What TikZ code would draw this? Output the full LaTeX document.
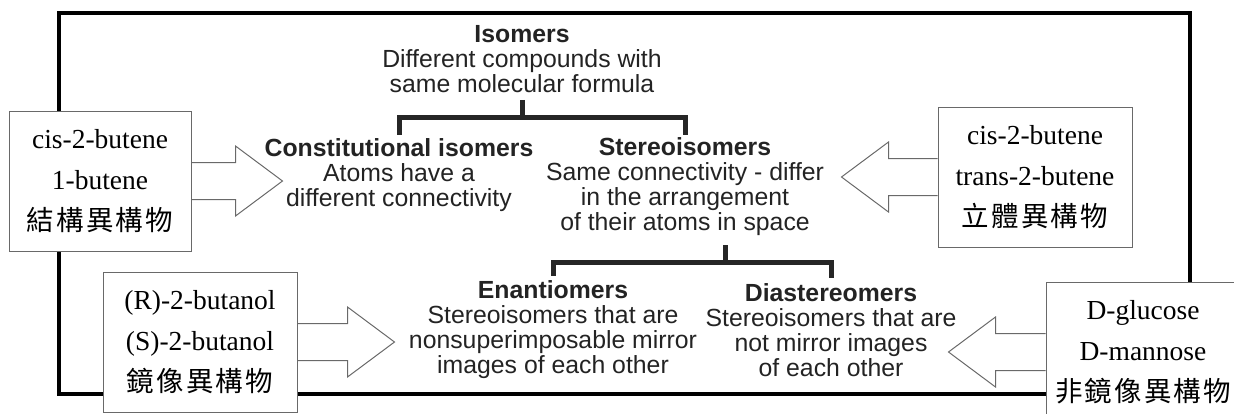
\documentclass[tikz,border=0pt]{standalone}
\usepackage{fontspec}
\setmainfont{Liberation Serif}
\setsansfont{Liberation Sans}
\newfontfamily\cjk[LetterSpace=8]{Noto Sans CJK TC}
\usetikzlibrary{positioning,calc}
\definecolor{txt}{RGB}{35,35,35}
\definecolor{edge}{RGB}{105,105,105}
% hollow block arrow: box anchor, tip, signed head length
\newcommand\fatarrow[3]{%
  \draw[blockarr] ($(#1)+(0,-18.5)$) -- ($(#2)+({-(#3)},-18.5)$) -- ($(#2)+({-(#3)},-35)$)
    -- (#2) -- ($(#2)+({-(#3)},35)$) -- ($(#2)+({-(#3)},18.5)$) -- ($(#1)+(0,18.5)$);}

\begin{document}
\begin{tikzpicture}[x=1pt,y=-1pt,every node/.style={inner sep=0pt},
  hd/.style={font=\fontsize{24.8}{25}\selectfont\sffamily,text=txt,align=center},
  ex/.style={draw=edge,line width=1pt,fill=white,minimum width=194pt,minimum height=140pt,
    align=center,font=\fontsize{27.5}{41}\selectfont},
  blockarr/.style={draw=edge,line width=1pt,line join=miter},
  tree/.style={line width=5pt,draw=black!85,line join=miter}]
  \useasboundingbox (0,0) rectangle (1234,413);
  \clip (0,0) rectangle (1234,413);
  \draw[line width=4pt] (59,13) rectangle (1190,394);
  % classification
  \node[hd] (isom) at (522,59) {\textbf{Isomers}\\Different compounds with\\same molecular formula};
  \node[hd] (cons) at (399,175) {\textbf{Constitutional isomers}\\Atoms have a\\different connectivity};
  \node[hd] (ster) at (685,187) {\textbf{Stereoisomers}\\Same connectivity - differ\\in the arrangement\\of their atoms in space};
  \node[hd] (enan) at (553,330) {\textbf{Enantiomers}\\Stereoisomers that are\\nonsuperimposable mirror\\images of each other};
  \node[hd] (dias) at (831,330) {\textbf{Diastereomers}\\Stereoisomers that are\\not mirror images\\of each other};
  \coordinate (j1) at (522,117);
  \coordinate (j2) at (725,262);
  \draw[tree,shorten <=7pt,shorten >=3pt] (isom.south) -- (j1) -| (cons.north);
  \draw[tree,shorten >=3pt] (j1) -| (ster.north);
  \draw[tree,shorten <=9pt,shorten >=5pt] (j2 |- ster.south) -- (j2) -| (enan.north);
  \draw[tree,shorten >=5pt] (j2) -| (dias.north);
  % examples
  \node[ex,minimum width=182pt] (b1) at (100,181) {cis-2-butene\\1-butene\\{\cjk 結構異構物}};
  \node[ex] (b2) at (1035,177) {cis-2-butene\\trans-2-butene\\{\cjk 立體異構物}};
  \node[ex] (b3) at (200,342) {(R)-2-butanol\\(S)-2-butanol\\{\cjk 鏡像異構物}};
  \node[ex] (b4) at (1143,352) {D-glucose\\D-mannose\\{\cjk 非鏡像異構物}};
  \path (b1.east) ++(91,0) coordinate (t1);
  \path (b2.west) ++(-96,0) coordinate (t2);
  \path (b3.east) ++(97,0) coordinate (t3);
  \path (b4.west) ++(-97,0) coordinate (t4);
  \fatarrow{b1.east}{t1}{47}
  \fatarrow{b2.west}{t2}{-47}
  \fatarrow{b3.east}{t3}{47}
  \fatarrow{b4.west}{t4}{-47}
\end{tikzpicture}
\end{document}
